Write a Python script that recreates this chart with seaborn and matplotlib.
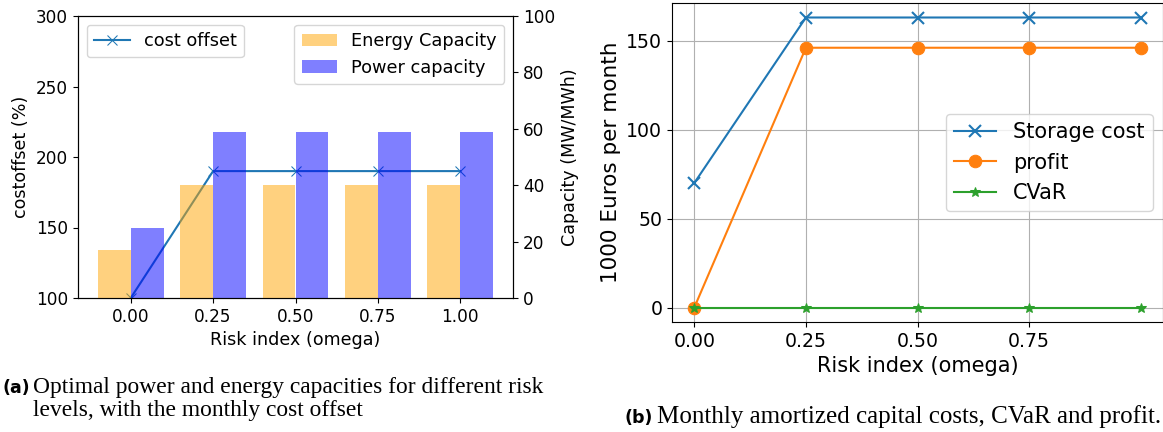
import numpy as np
import pandas as pd
import matplotlib
matplotlib.use("Agg")
import matplotlib.pyplot as plt
import seaborn as sns

# risk index values (omega)
omega = [0.0, 0.25, 0.5, 0.75, 1.0]
omega_labels = ["0.00", "0.25", "0.50", "0.75", "1.00"]

# left panel: capacities and cost offset
energy_capacity = [17, 40, 40, 40, 40]
power_capacity = [25, 59, 59, 59, 59]
cost_offset = [100, 190, 190, 190, 190]

# right panel: monthly costs (1000 Euros)
storage_cost = [70, 163, 163, 163, 163]
profit = [0, 146, 146, 146, 146]
cvar = [0, 0, 0, 0, 0]

W, H = 1163, 432
fig = plt.figure(figsize=(W / 100, H / 100), dpi=100)


def box(x0, y0, x1, y1):
    # pixel box -> figure fraction
    return [x0 / W, 1 - y1 / H, (x1 - x0) / W, (y1 - y0) / H]


# ---- (a) capacities + cost offset
ax1 = fig.add_axes(box(78, 16, 513, 298))
ax2 = ax1.twinx()

bars = pd.DataFrame({
    "omega": omega_labels * 2,
    "capacity": energy_capacity + power_capacity,
    "kind": ["Energy Capacity"] * 5 + ["Power capacity"] * 5,
})
sns.barplot(data=bars, x="omega", y="capacity", hue="kind",
            palette=["orange", "blue"], alpha=0.5, saturation=1, ax=ax2)
sns.lineplot(x=np.arange(len(omega)), y=cost_offset, marker="x",
             color="tab:blue", label="cost offset", ax=ax1,
             markeredgecolor="tab:blue", markersize=7)

ax1.set_ylim(100, 300)
ax1.set_yticks([100, 150, 200, 250, 300])
ax2.set_ylim(0, 100)
ax1.set_xticks(range(len(omega)))
ax1.set_xticklabels(omega_labels)
ax1.set_xlabel("Risk index (omega)", fontsize=12.6)
ax1.set_ylabel("costoffset (%)", fontsize=12.6)
ax2.set_ylabel("Capacity (MW/MWh)", fontsize=12.6)
ax2.set_xlabel("")
ax1.tick_params(labelsize=12.2)
ax2.tick_params(labelsize=12.2)
ax1.legend(loc="upper left", fontsize=12.8)
ax2.legend(loc="upper right", fontsize=12.8, title=None)

# ---- (b) costs, CVaR and profit
ax3 = fig.add_axes(box(672, 3, 1163, 322))
sns.lineplot(x=omega, y=storage_cost, marker="x", color="tab:blue",
             markeredgecolor="tab:blue", markersize=9, mew=1.5,
             label="Storage cost", ax=ax3)
sns.lineplot(x=omega, y=profit, marker="o", color="tab:orange",
             markeredgecolor="tab:orange", markersize=9,
             label="profit", ax=ax3)
sns.lineplot(x=omega, y=cvar, marker="*", color="tab:green",
             markeredgecolor="tab:green", markersize=7,
             label="CVaR", ax=ax3)
ax3.set_xticks(omega[:4])
ax3.set_xticklabels(omega_labels[:4])
ax3.set_yticks([0, 50, 100, 150])
ax3.grid(True)
ax3.set_xlabel("Risk index (omega)", fontsize=15)
ax3.set_ylabel("1000 Euros per month", fontsize=15.5)
ax3.tick_params(labelsize=13.6)
ax3.legend(loc="center right", fontsize=15)

# captions
cap_font = "Liberation Serif"
fig.text(3 / W, 1 - 393 / H, "(a)", fontsize=12.5, fontweight="bold",
         family="DejaVu Sans", va="baseline")
fig.text(33 / W, 1 - 393 / H, "Optimal power and energy capacities for different risk",
         fontsize=16.9, family=cap_font, va="baseline")
fig.text(33 / W, 1 - 416 / H, "levels, with the monthly cost offset",
         fontsize=16.9, family=cap_font, va="baseline")
fig.text(625 / W, 1 - 423 / H, "(b)", fontsize=12.5, fontweight="bold",
         family="DejaVu Sans", va="baseline")
fig.text(657 / W, 1 - 423 / H, "Monthly amortized capital costs, CVaR and profit.",
         fontsize=18, family=cap_font, va="baseline")

fig.savefig("out.png", dpi=100)
